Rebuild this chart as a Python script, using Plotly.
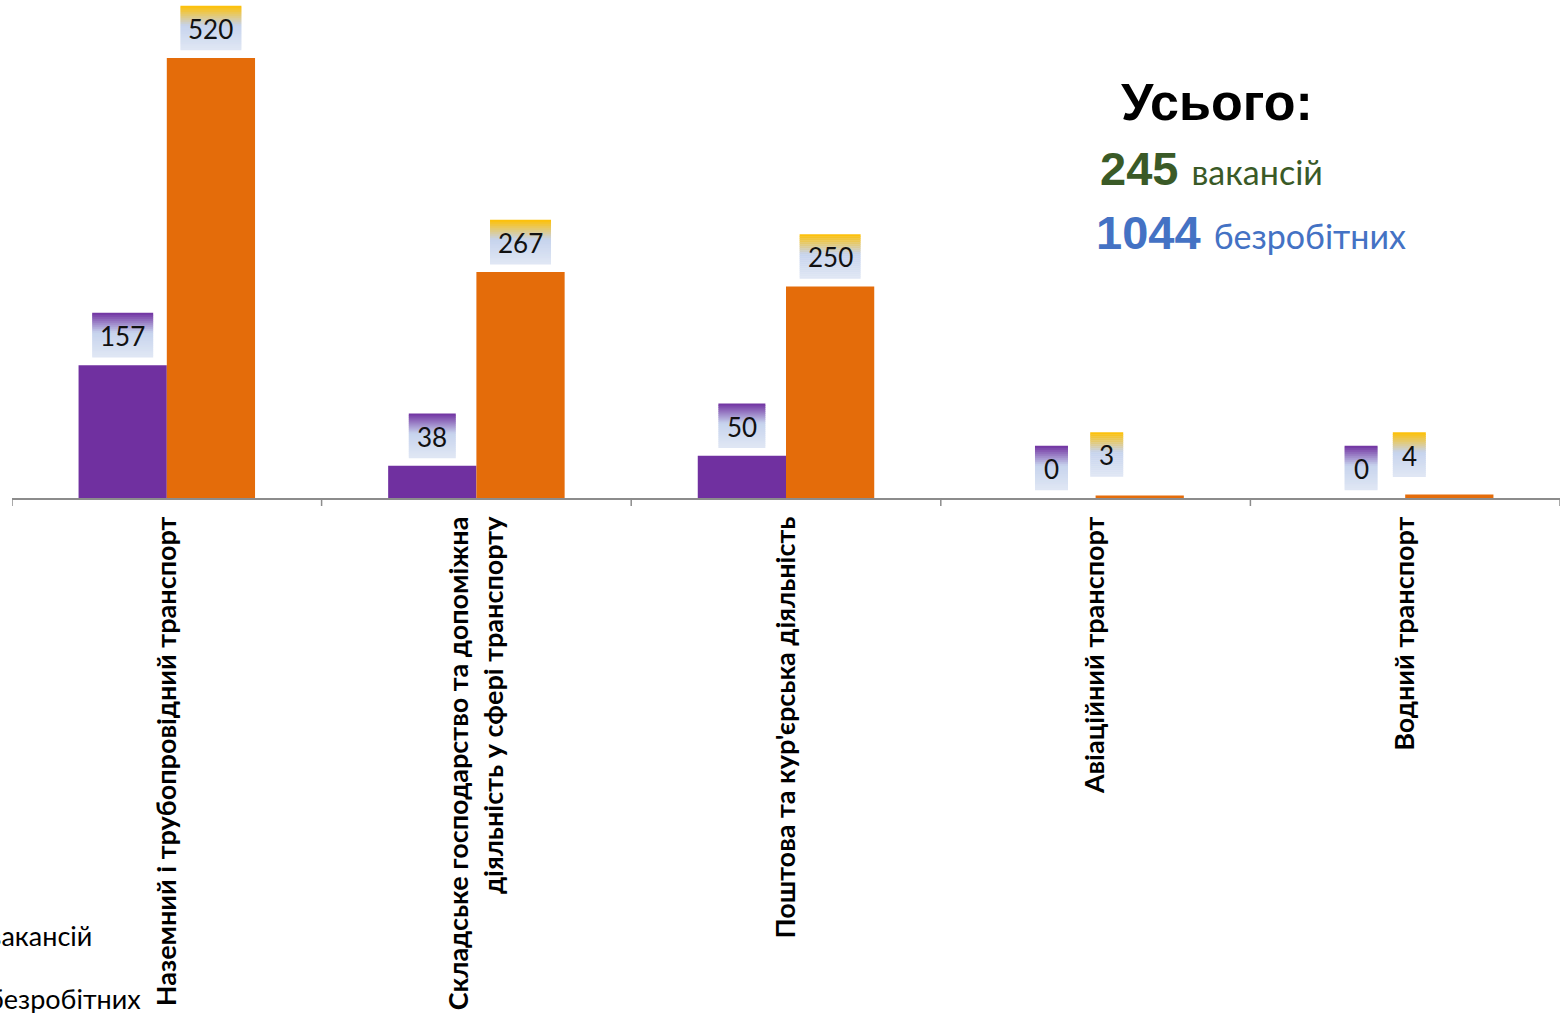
import plotly.graph_objects as go

categories = [
    "Наземний і трубопровідний транспорт",
    "Складське господарство та допоміжна<br>діяльність у сфері транспорту",
    "Поштова та кур'єрська діяльність",
    "Авіаційний транспорт",
    "Водний транспорт",
]
vacancies = [157, 38, 50, 0, 0]
unemployed = [520, 267, 250, 3, 4]
series_names = ["вакансій", "безробітних"]
total_vacancies = 245
total_unemployed = 1044

W, H = 1560, 1013
ML, MR, MT, MB = 12, 0, 0, 515
plot_h = H - MT - MB
YMAX = 520 * plot_h / 440.0
BAR_W = 0.285

PURPLE = "#7030A0"
ORANGE = "#E46C0A"
FONT = "Lato"

fig = go.Figure()
fig.add_trace(go.Bar(x=list(range(len(categories))), y=vacancies, name=series_names[0],
                     marker=dict(color=PURPLE, line=dict(width=0)), width=BAR_W, offset=-BAR_W))
fig.add_trace(go.Bar(x=list(range(len(categories))), y=unemployed, name=series_names[1],
                     marker=dict(color=ORANGE, line=dict(width=0)), width=BAR_W, offset=0))


def hex2rgb(h):
    h = h.lstrip("#")
    return tuple(int(h[i:i + 2], 16) for i in (0, 2, 4))


def lerp(c1, c2, t):
    a, b = hex2rgb(c1), hex2rgb(c2)
    return "rgb(%d,%d,%d)" % tuple(round(a[i] + (b[i] - a[i]) * t) for i in range(3))


def grad_color(top, t):
    # t: 0 at top, 1 at bottom
    mid, bot = "#C6D3ED", "#E0E7F4"
    if t < 0.45:
        return lerp(top, mid, t / 0.45)
    return lerp(mid, bot, (t - 0.45) / 0.55)


# label nudges (pixels) for crowded small labels: (series, category) -> (dx, dy)
nudges = {(1, 3): (-33, 11), (1, 4): (-40, 10)}

shapes = []
annotations = []
BOX_H = 44
GAP = 8
NSTRIPE = 22
for s, (vals, top) in enumerate([(vacancies, PURPLE), (unemployed, "#FFC000")]):
    off = -BAR_W / 2 if s == 0 else BAR_W / 2
    for i, v in enumerate(vals):
        dx, dy = nudges.get((s, i), (0, 0))
        txt = str(v)
        w = 14 * len(txt) + 19
        for k in range(NSTRIPE):
            y1 = GAP + dy + BOX_H - k * BOX_H / NSTRIPE
            y0 = GAP + dy + BOX_H - (k + 1) * BOX_H / NSTRIPE
            shapes.append(dict(type="rect", xref="x", yref="y", xsizemode="pixel", ysizemode="pixel",
                               xanchor=i + off, yanchor=v, x0=-w / 2 + dx, x1=w / 2 + dx,
                               y0=y0 - 0.3, y1=y1 + 0.3, line=dict(width=0),
                               fillcolor=grad_color(top, (k + 0.5) / NSTRIPE), layer="above"))
        annotations.append(dict(x=i + off, y=v, xref="x", yref="y", text=txt, showarrow=False,
                                xshift=dx, yshift=GAP + dy + BOX_H / 2 - 1,
                                font=dict(family=FONT, size=26, color="#111111")))


def px2paper_x(px):
    return (px - ML) / (W - ML - MR)


def px2paper_y(py):
    return (H - MB - py) / plot_h


# totals block
annotations.append(dict(xref="paper", yref="paper", x=px2paper_x(1217), y=px2paper_y(102),
                        text="<b>Усього:</b>", showarrow=False, xanchor="center", yanchor="middle",
                        font=dict(family="Liberation Sans", size=52, color="#000000")))
annotations.append(dict(xref="paper", yref="paper", x=px2paper_x(1098), y=px2paper_y(168),
                        text="<b>%d</b> <span style='font-family:Lato;font-size:34px'>%s</span>" % (total_vacancies, series_names[0]),
                        showarrow=False, xanchor="left", yanchor="middle",
                        font=dict(family="Liberation Sans", size=47, color="#3A5A27")))
annotations.append(dict(xref="paper", yref="paper", x=px2paper_x(1094), y=px2paper_y(232),
                        text="<b>%d</b> <span style='font-family:Lato;font-size:34px'>%s</span>" % (total_unemployed, series_names[1]),
                        showarrow=False, xanchor="left", yanchor="middle",
                        font=dict(family="Liberation Sans", size=47, color="#4472C4")))

# legend texts (partially cut off at left edge, as in the reference)
for name, py in zip(series_names, [936, 998]):
    annotations.append(dict(xref="paper", yref="paper", x=px2paper_x(-14), y=px2paper_y(py),
                            text=name, showarrow=False, xanchor="left", yanchor="middle",
                            font=dict(family=FONT, size=27, color="#000000")))

fig.update_layout(
    width=W, height=H,
    margin=dict(l=ML, r=MR, t=MT, b=MB, pad=0),
    plot_bgcolor="white", paper_bgcolor="white",
    showlegend=False,
    barmode="overlay",
    shapes=shapes,
    annotations=annotations,
    xaxis=dict(
        tickmode="array", tickvals=list(range(len(categories))), ticktext=["<b>%s</b>" % c for c in categories],
        range=[-0.5, len(categories) - 0.5], tickangle=-90,
        showline=True, linecolor="#8C8C8C", linewidth=1.5,
        ticks="", showgrid=False, zeroline=False, automargin=False,
        ticklabelstandoff=6,
        tickfont=dict(family=FONT, size=27, color="#000000"),
    ),
    yaxis=dict(range=[0, YMAX], visible=False, showgrid=False, zeroline=False, fixedrange=True),
)

# boundary tick marks on the category axis
for b in range(len(categories) + 1):
    fig.add_shape(type="line", xref="x", yref="paper", x0=b - 0.5, x1=b - 0.5,
                  y0=0, y1=-8 / plot_h, line=dict(color="#8C8C8C", width=1.5))

fig.write_html("out.html", config={"displayModeBar": False},
               post_script="document.body.style.margin='0';document.body.style.overflow='hidden';")
